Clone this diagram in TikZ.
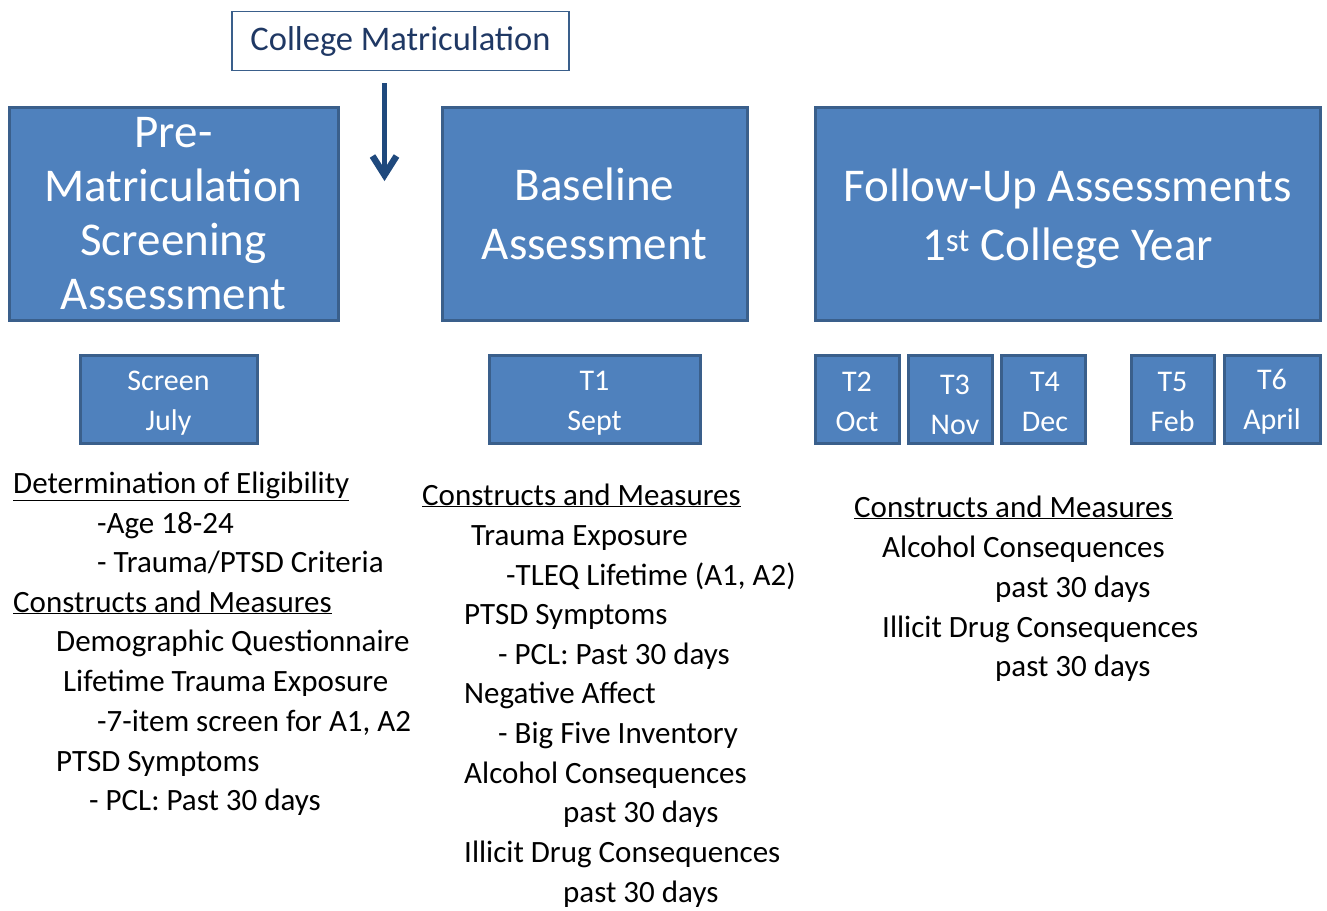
\documentclass[tikz,border=0pt]{standalone}
\usepackage{fontspec}
\setmainfont{Carlito}
\usetikzlibrary{arrows.meta}
\definecolor{boxfill}{HTML}{4F81BD}
\definecolor{boxline}{HTML}{3A5F8B}
\definecolor{navy}{HTML}{1F3864}
\definecolor{arrowc}{HTML}{1F497D}
\tikzset{
  bigbox/.style={draw=boxline, line width=3pt, fill=boxfill, text=white, align=center, inner sep=0pt, font=\fontsize{47}{54}\selectfont},
  smallbox/.style={draw=boxline, line width=3pt, fill=boxfill, text=white, align=center, inner sep=0pt, minimum height=88pt},
  boxtxt/.style={text=white, align=center, inner sep=0pt, font=\fontsize{30}{40}\selectfont},
  txt/.style={anchor=base west, inner sep=0pt, text=black, font=\fontsize{31}{36}\selectfont},
}
\newcommand{\ul}[1]{\underline{#1}}
\begin{document}
\begin{tikzpicture}[x=1pt,y=-1pt]
\useasboundingbox (0,0) rectangle (1327,910);
% top box
\node[draw=boxline, line width=1.2pt, fill=white, text=navy, minimum width=337pt, minimum height=59pt, inner sep=0pt, font=\fontsize{34.5}{40}\selectfont] (cm) at (400.5,41) {College Matriculation};
\coordinate (arrS) at (384.5,83);
\coordinate (arrE) at (384.5,175);
\draw[arrowc, line width=5.5pt] (arrS) -- (arrE);
\draw[arrowc, line width=6.5pt, line join=miter, miter limit=4] ([xshift=-12pt,yshift=19pt]arrE) -- (arrE) -- ([xshift=12pt,yshift=19pt]arrE);
% big boxes
\node[bigbox, minimum width=329pt, minimum height=213pt] (pre) at (173.5,213.5) {Pre-\\Matriculation\\Screening\\Assessment};
\node[bigbox, minimum width=305pt, minimum height=213pt, font=\fontsize{47}{59}\selectfont] (base) at (594.5,213.5) {Baseline\\Assessment};
\node[bigbox, minimum width=505pt, minimum height=213pt] (fu) at (1067.5,213.5) {};
\node[boxtxt, font=\fontsize{47}{59}\selectfont] (futxt) at (1067.5,219) {Follow-Up Assessments\\1\textsuperscript{st} College Year};
% small boxes
\node[smallbox, minimum width=177pt] (scr) at (168.5,399) {};
\node[boxtxt] (scrtxt) at (168.5,403) {Screen\\July};
\node[smallbox, minimum width=211pt] (t1) at (594.5,399) {};
\node[boxtxt] (t1txt) at (594.5,403) {T1\\Sept};
\node[smallbox, minimum width=84pt] (t2) at (857,399) {};
\node[boxtxt] (t2txt) at (857,402) {T2\\Oct};
\node[smallbox, minimum width=84pt] (t3) at (950,399) {};
\node[boxtxt] (t3txt) at (955,405) {T3\\Nov};
\node[smallbox, minimum width=84pt] (t4) at (1043,399) {};
\node[boxtxt] (t4txt) at (1045,402) {T4\\Dec};
\node[smallbox, minimum width=83pt] (t5) at (1172.5,399) {};
\node[boxtxt] (t5txt) at (1172.5,402) {T5\\Feb};
\node[smallbox, minimum width=96pt] (t6) at (1272,399) {};
\node[boxtxt] (t6txt) at (1272,402) {T6\\April};
% left text
\node[txt] (a1) at (13,493) {\ul{Determination of Eligibility}};
\node[txt] (a2) at (97,533) {-Age 18-24};
\node[txt] (a3) at (97,572) {- Trauma/PTSD Criteria};
\node[txt] (a4) at (13,612) {\ul{Constructs and Measures}};
\node[txt] (a5) at (56,651) {Demographic Questionnaire};
\node[txt] (a6) at (63,691) {Lifetime Trauma Exposure};
\node[txt] (a7) at (97,731) {-7-item screen for A1, A2};
\node[txt] (a8) at (56,771) {PTSD Symptoms};
\node[txt] (a9) at (89,810) {- PCL: Past 30 days};
% middle text
\node[txt] (b1) at (422,505) {\ul{Constructs and Measures}};
\node[txt] (b2) at (471,545) {Trauma Exposure};
\node[txt] (b3) at (506,585) {-TLEQ Lifetime (A1, A2)};
\node[txt] (b4) at (464,624) {PTSD Symptoms};
\node[txt] (b5) at (498,664) {- PCL: Past 30 days};
\node[txt] (b6) at (464,703) {Negative Affect};
\node[txt] (b7) at (498,743) {- Big Five Inventory};
\node[txt] (b8) at (464,783) {Alcohol Consequences};
\node[txt] (b9) at (563,822) {past 30 days};
\node[txt] (b10) at (464,862) {Illicit Drug Consequences};
\node[txt] (b11) at (563,902) {past 30 days};
% right text
\node[txt] (c1) at (854,517) {\ul{Constructs and Measures}};
\node[txt] (c2) at (882,557) {Alcohol Consequences};
\node[txt] (c3) at (995,597) {past 30 days};
\node[txt] (c4) at (882,637) {Illicit Drug Consequences};
\node[txt] (c5) at (995,676) {past 30 days};
\end{tikzpicture}
\end{document}
